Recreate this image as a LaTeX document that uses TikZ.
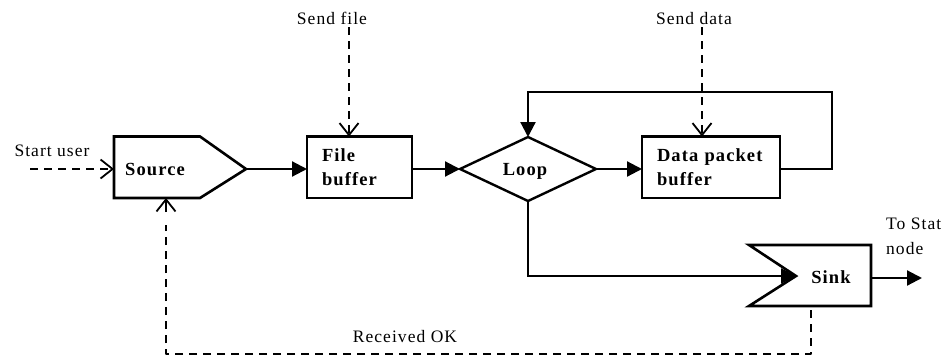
\documentclass[tikz,border=0pt]{standalone}
\usepackage{fontspec}
\setmainfont{Liberation Serif}[LetterSpace=6]
\usetikzlibrary{arrows.meta,shapes.geometric}
\tikzset{
  x=1pt,y=-1pt,
  lbl/.style={font=\fontsize{17.5}{25}\selectfont,inner sep=0pt,align=left},
  blk/.style={font=\fontsize{18.5}{24}\selectfont\bfseries,inner sep=0pt},
  bufbox/.style={blk,draw,line width=2.2pt,rectangle,align=left,minimum height=61.5pt,inner xsep=15pt,outer sep=0pt},
  ghost/.style={rectangle,inner sep=0pt,outer sep=0pt},
  flow/.style={line width=2.2pt,-{Triangle[length=15pt,width=15pt]}},
  ctrl/.style={line width=2pt,dash pattern=on 8pt off 6pt,-{Straight Barb[length=12pt,width=19pt,line width=1.8pt]}},
  ctrlline/.style={line width=2pt,dash pattern=on 8pt off 6pt},
  outl/.style={line width=2.6pt,line join=miter}
}
\begin{document}
\begin{tikzpicture}
\useasboundingbox (0,0) rectangle (946,359);
\clip (0,0) rectangle (946,359);
% Source
\node[ghost,minimum width=132pt,minimum height=61.5pt] (source) at (180,167.25) {};
\draw[outl] (source.north west) -- (200,136.5) -- (246,169) -- (200,198) -- (source.south west) -- cycle;
\node[blk,anchor=west] (sourcet) at (125,169) {Source};
% File buffer
\node[bufbox,text width=75pt] (file) at (359.5,167.25) {File\\buffer};
% Loop
\node[diamond,draw,line width=2.4pt,minimum width=136pt,minimum height=64pt,aspect=2.1,inner sep=0pt,outer sep=0pt] (loop) at (528,169) {};
\node[blk] (loopt) at (525,171) {Loop};
% Data packet buffer
\node[bufbox,text width=108pt] (data) at (711,167.25) {Data packet\\buffer};
% Sink
\node[ghost,minimum width=122pt,minimum height=61pt] (sink) at (810,275.5) {};
\coordinate (notch) at (796,276);
\draw[outl] (sink.north west) -- (sink.north east) -- (sink.south east) -- (sink.south west) -- (notch) -- cycle;
\node[blk] (sinkt) at (831,277) {Sink};
% Labels
\node[lbl] (startl) at (52,151) {Start user};
\node[lbl] (sendf) at (332,18) {Send file};
\node[lbl] (sendd) at (694,19) {Send data};
\node[lbl] (recv) at (405,337) {Received OK};
\node[lbl,anchor=north west] (tostat) at (886,218) {To Stat\\node};
% Free ends
\coordinate (startc) at (30,169);
\coordinate (outc) at (922,278);
\coordinate (sendfc) at (349,27);
\coordinate (senddc) at (702,27);
\coordinate (loopc) at (832,92);
\coordinate (sinkc) at (811,310);
\coordinate (srcc) at (166,198);
% Connectors
\draw[ctrl] (startc) -- (startc -| source.west);
\draw[ctrl] (sendfc) -- (sendfc |- file.north);
\draw[ctrl] (senddc) -- (senddc |- data.north);
\draw[flow] (246,169) -- (246,169 -| file.west);
\draw[flow] (412,169) -- (loop.west);
\draw[flow] (loop.east) -- (loop.east -| data.west);
\draw[flow] (780,169) -- (832,169) -- (loopc) -- (loopc -| loop.north) -- (loop.north);
\draw[flow] (loop.south) |- (notch);
\draw[flow] (871,278) -- (outc);
\draw[ctrlline,line join=round] (sinkc) -- (811,354) -- (166,354) -- (166,225);
\draw[ctrl,dash pattern=on 7pt off 0pt] (166,212) -- (srcc);
\end{tikzpicture}
\end{document}
